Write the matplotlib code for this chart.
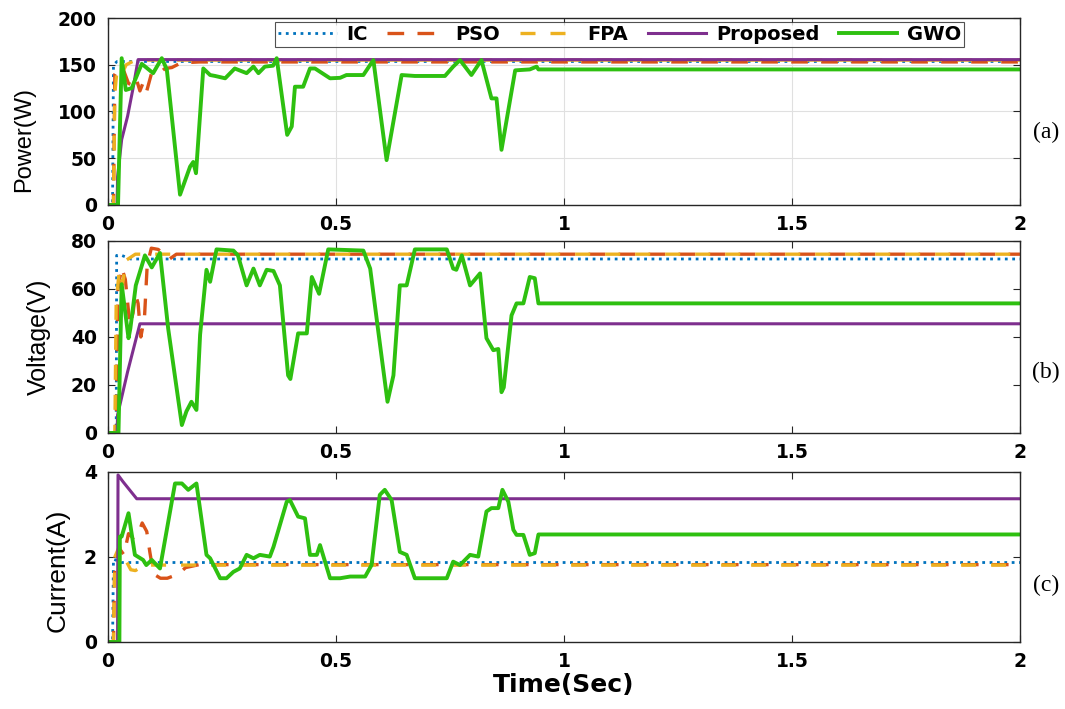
import numpy as np
import matplotlib
matplotlib.use('Agg')
import matplotlib.pyplot as plt

plt.rcParams['font.family'] = ['DejaVu Sans']

# ---- Power (W) ----
gwo_p_t = [0, 0.022, 0.030, 0.039, 0.052, 0.074, 0.099, 0.118, 0.129, 0.158, 0.180, 0.187, 0.193,
           0.209, 0.224, 0.235, 0.257, 0.278, 0.304, 0.319, 0.330, 0.344, 0.362, 0.370, 0.393,
           0.403, 0.410, 0.428, 0.443, 0.454, 0.487, 0.509, 0.523, 0.560, 0.582, 0.611, 0.644,
           0.673, 0.739, 0.757, 0.772, 0.797, 0.819, 0.841, 0.852, 0.863, 0.893, 0.925, 0.940,
           0.944, 2.0]
gwo_p = [0, 0, 157, 123, 125, 151, 141, 157, 145, 11, 41, 46, 34,
         146, 139, 138, 135.5, 146, 141, 148, 141, 148, 149, 157, 75,
         84, 126.5, 126.5, 146, 146, 135.5, 136, 139, 139, 155, 48, 139,
         138, 138, 148, 155, 139, 155, 114, 114, 59, 144, 145, 148,
         145, 145]
prop_p_t = [0, 0.020, 0.021, 0.030, 0.043, 0.055, 0.066, 2.0]
prop_p = [0, 0, 30, 70, 95, 125, 155.5, 155.5]
ic_p_t = [0, 0.010, 0.012, 0.020, 2.0]
ic_p = [0, 0, 150, 153.5, 153.5]
pso_p_t = [0, 0.012, 0.015, 0.025, 0.035, 0.045, 0.055, 0.062, 0.070, 0.078, 0.085, 0.095,
           0.110, 0.125, 0.140, 0.160, 0.200, 2.0]
pso_p = [0, 0, 140, 148, 143, 130, 128, 135, 122, 132, 122, 140,
         140, 146, 147, 152, 153, 153]
fpa_p_t = [0, 0.012, 0.015, 0.020, 0.030, 0.040, 0.060, 2.0]
fpa_p = [0, 0, 120, 145, 140, 150, 155, 155]

# ---- Voltage (V) ----
gwo_v_t = [0, 0.023, 0.030, 0.045, 0.049, 0.061, 0.081, 0.096, 0.114, 0.132, 0.162, 0.172,
           0.183, 0.194, 0.202, 0.216, 0.224, 0.238, 0.275, 0.285, 0.304, 0.319, 0.333, 0.348,
           0.363, 0.377, 0.395, 0.400, 0.417, 0.436, 0.447, 0.463, 0.483, 0.560, 0.575, 0.593,
           0.613, 0.626, 0.640, 0.655, 0.673, 0.743, 0.757, 0.764, 0.776, 0.794, 0.816, 0.830,
           0.845, 0.856, 0.863, 0.868, 0.885, 0.896, 0.911, 0.925, 0.936, 0.944, 2.0]
gwo_v = [0, 0, 62, 39.5, 43.5, 61.5, 74, 69, 75, 43.5, 3.3, 9,
         13, 9.6, 41, 68, 63, 76.5, 76, 74, 61.5, 68.5, 61.5, 68,
         67.5, 61.5, 24, 22.5, 41.5, 41.5, 65, 58, 76.5, 76, 68.5, 42,
         13, 24, 61.5, 61.5, 76.5, 76.5, 68.5, 68, 74, 61.5, 66.5, 39.5,
         34.5, 35, 17, 19, 49, 54, 54, 65, 64.5, 54, 54]
prop_v_t = [0, 0.020, 0.021, 0.043, 0.070, 2.0]
prop_v = [0, 0, 7.5, 25.5, 45.5, 45.5]
ic_v_t = [0, 0.018, 0.019, 0.030, 0.050, 2.0]
ic_v = [0, 0, 74, 74, 72.5, 72.5]
pso_v_t = [0, 0.018, 0.022, 0.030, 0.038, 0.048, 0.055, 0.060, 0.066, 0.072, 0.080, 0.086,
           0.095, 0.110, 0.125, 0.135, 0.150, 2.0]
pso_v = [0, 0, 60, 69, 64, 45, 50, 58, 54, 40, 48, 70,
         77, 76.5, 74, 72.5, 74.5, 74.5]
fpa_v_t = [0, 0.015, 0.018, 0.025, 0.032, 0.040, 0.060, 2.0]
fpa_v = [0, 0, 55, 68, 62, 72, 74.5, 74.5]

# ---- Current (A) ----
gwo_i_t = [0, 0.025, 0.026, 0.030, 0.045, 0.059, 0.077, 0.084, 0.096, 0.114, 0.147, 0.162,
           0.176, 0.194, 0.216, 0.224, 0.246, 0.260, 0.275, 0.289, 0.304, 0.319, 0.333, 0.355,
           0.363, 0.392, 0.399, 0.417, 0.432, 0.443, 0.458, 0.465, 0.487, 0.509, 0.531, 0.564,
           0.578, 0.596, 0.607, 0.622, 0.640, 0.655, 0.673, 0.743, 0.757, 0.772, 0.794, 0.812,
           0.830, 0.841, 0.856, 0.865, 0.878, 0.889, 0.896, 0.911, 0.925, 0.936, 0.944, 2.0]
gwo_i = [0, 0, 2.48, 2.48, 3.03, 2.05, 1.93, 1.81, 1.93, 1.73, 3.73, 3.73,
         3.58, 3.73, 2.05, 1.97, 1.50, 1.50, 1.65, 1.73, 2.05, 1.97, 2.05, 2.01,
         2.24, 3.30, 3.34, 2.95, 2.91, 2.05, 2.05, 2.28, 1.50, 1.50, 1.54, 1.54,
         1.81, 3.46, 3.58, 3.34, 2.12, 2.05, 1.50, 1.50, 1.89, 1.81, 2.05, 2.01,
         3.07, 3.15, 3.15, 3.58, 3.30, 2.64, 2.52, 2.52, 2.05, 2.09, 2.53, 2.53]
prop_i_t = [0, 0.021, 0.022, 0.033, 0.063, 2.0]
prop_i = [0, 0, 3.93, 3.77, 3.37, 3.37]
ic_i_t = [0, 0.010, 0.012, 0.030, 2.0]
ic_i = [0, 0, 1.95, 1.87, 1.87]
pso_i_t = [0, 0.012, 0.015, 0.025, 0.035, 0.045, 0.055, 0.065, 0.075, 0.085, 0.092, 0.100,
           0.115, 0.130, 0.155, 0.170, 0.200, 2.0]
pso_i = [0, 0, 1.9, 2.2, 2.05, 2.55, 2.45, 2.5, 2.8, 2.6, 2.1, 1.6,
         1.5, 1.5, 1.6, 1.75, 1.82, 1.82]
fpa_i_t = [0, 0.012, 0.015, 0.025, 0.035, 0.050, 0.060, 0.080, 2.0]
fpa_i = [0, 0, 2.0, 2.25, 2.0, 1.7, 1.68, 1.81, 1.81]

c_ic = '#0072BD'
c_pso = '#D95319'
c_fpa = '#EDB120'
c_prop = '#7E2F8E'
c_gwo = '#2EC010'

fig = plt.figure(figsize=(10.65, 7.09), dpi=100)
ax_a = fig.add_axes([0.1014, 0.7109, 0.8563, 0.2637])
ax_b = fig.add_axes([0.1014, 0.3893, 0.8563, 0.2708])
ax_c = fig.add_axes([0.1014, 0.0945, 0.8563, 0.2398])

# ylabel: text, size, x/y label position in axes coords
panels = [
    (ax_a, (ic_p_t, ic_p), (pso_p_t, pso_p), (fpa_p_t, fpa_p), (prop_p_t, prop_p), (gwo_p_t, gwo_p),
     'Power(W)', 17, (-0.080, 0.35), (0, 200), [0, 50, 100, 150, 200]),
    (ax_b, (ic_v_t, ic_v), (pso_v_t, pso_v), (fpa_v_t, fpa_v), (prop_v_t, prop_v), (gwo_v_t, gwo_v),
     'Voltage(V)', 18, (-0.063, 0.5), (0, 80), [0, 20, 40, 60, 80]),
    (ax_c, (ic_i_t, ic_i), (pso_i_t, pso_i), (fpa_i_t, fpa_i), (prop_i_t, prop_i), (gwo_i_t, gwo_i),
     'Current(A)', 19, (-0.042, 0.42), (0, 4), [0, 2, 4]),
]

for ax, ic, pso, fpa, prop, gwo, ylab, ysz, ypos, ylim, yt in panels:
    ax.plot(*ic, color=c_ic, ls=':', lw=2.0, label='IC')
    ax.plot(*pso, color=c_pso, ls='--', lw=2.4, dashes=(5, 4), label='PSO')
    ax.plot(*fpa, color=c_fpa, ls='--', lw=2.4, dashes=(4.5, 4.5), label='FPA')
    ax.plot(*prop, color=c_prop, lw=2.2, label='Proposed')
    ax.plot(*gwo, color=c_gwo, lw=2.8, label='GWO')
    ax.set_xlim(0, 2)
    ax.set_ylim(*ylim)
    ax.set_yticks(yt)
    ax.set_xticks([0, 0.5, 1, 1.5, 2])
    ax.set_xticklabels(['0', '0.5', '1', '1.5', '2'])
    ax.set_ylabel(ylab, fontsize=ysz, family=['Liberation Sans'])
    ax.yaxis.set_label_coords(*ypos)
    ax.tick_params(direction='in', top=True, right=True, labelsize=13.5, length=5, color='#262626')
    ax.tick_params(axis='y', pad=8)
    ax.tick_params(axis='x', pad=7)
    for lab in ax.get_xticklabels() + ax.get_yticklabels():
        lab.set_fontweight('bold')
    for s in ax.spines.values():
        s.set_color('#262626')
        s.set_linewidth(1.0)

ax_a.grid(True, color='#e0e0e0', lw=0.8)
ax_a.set_axisbelow(True)
ax_c.set_xlabel('Time(Sec)', fontsize=18, fontweight='bold', labelpad=2)

leg = ax_a.legend(loc='upper center', bbox_to_anchor=(0.561, 1.0), ncol=5, frameon=True,
                  fancybox=False, edgecolor='#262626', handlelength=3.0, columnspacing=1.0,
                  handletextpad=0.5, borderpad=0.15, borderaxespad=0.2,
                  prop={'weight': 'bold', 'size': 14})
leg.get_frame().set_linewidth(0.8)

for lbl, y in [('(a)', 132), ('(b)', 372), ('(c)', 585)]:
    fig.text(1046 / 1065, 1 - y / 709, lbl, fontsize=17, family='Liberation Serif',
             ha='center', va='center')

fig.savefig('out.png', dpi=100)
